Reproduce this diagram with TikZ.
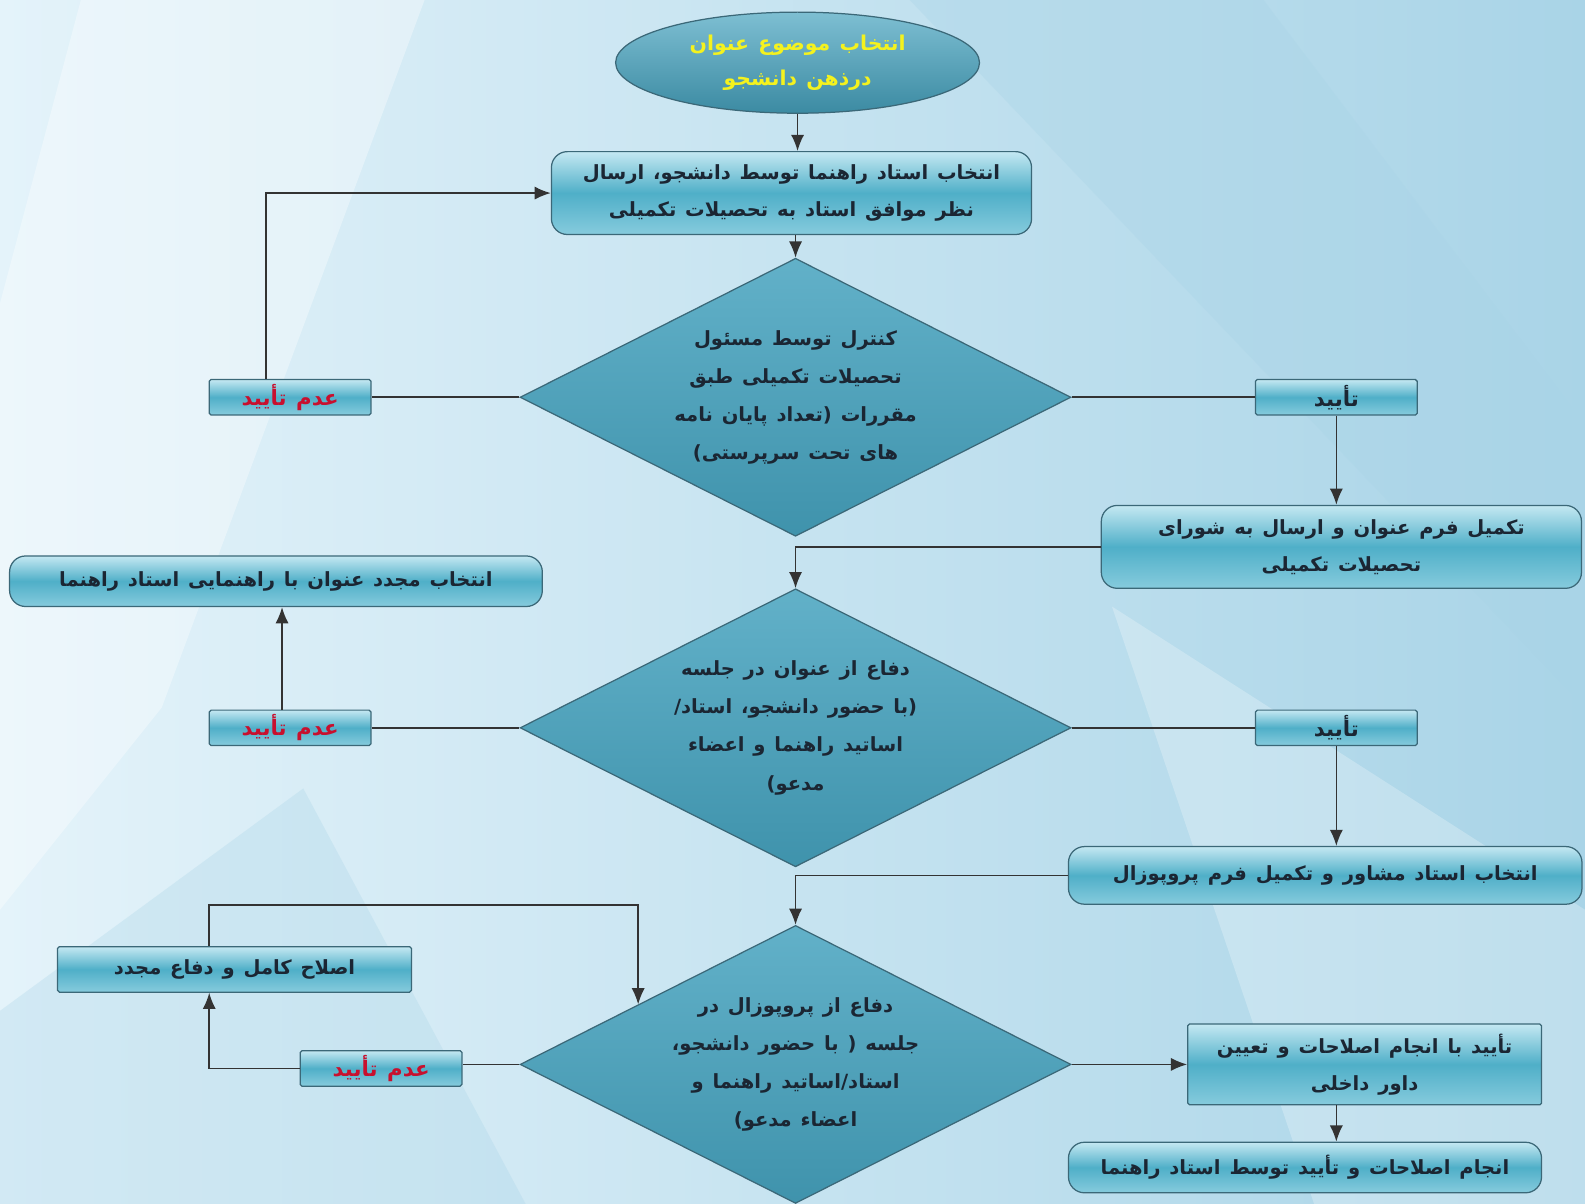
\documentclass[tikz,border=0pt]{standalone}
\usepackage{fontspec}
\usepackage{tikz}
\usetikzlibrary{shapes.geometric}
\usetikzlibrary{arrows.meta}
\usetikzlibrary{calc}
\TeXXeTstate=1
\newfontfamily\farsi[Script=Arabic, WordSpace=1.3]{DejaVu Sans}
\newcommand{\fa}[1]{\beginR #1\endR}

\definecolor{bgleft}{HTML}{E4F3FA}
\definecolor{bgright}{HTML}{A9D4E7}
\definecolor{boxtop}{HTML}{C4E8F2}
\definecolor{boxmid}{HTML}{4FAFC8}
\definecolor{boxbot}{HTML}{86CBDD}
\definecolor{edgecol}{HTML}{3B6878}
\definecolor{diafill}{HTML}{46A3BF}
\definecolor{txtcol}{HTML}{1B2633}
\definecolor{nocol}{HTML}{C8102E}
\definecolor{startcol}{HTML}{F4F21E}

\tikzset{
  base/.style={draw=edgecol, line width=0.7pt, align=center, inner sep=0pt,
    text=txtcol, font=\farsi\bfseries\fontsize{11}{21}\selectfont,
    top color=boxtop, bottom color=boxbot, middle color=boxmid},
  stepbox/.style={base, rectangle, rounded corners=9pt},
  flatbox/.style={base, rectangle, rounded corners=1pt},
  answer/.style={flatbox, minimum width=32mm, minimum height=7mm,
    font=\farsi\bfseries\fontsize{12}{21}\selectfont},
  decision/.style={diamond, draw=edgecol, line width=0.7pt, inner sep=0pt,
    top color=diafill!85!white, bottom color=diafill!90!black,
    minimum width=109mm, minimum height=55mm},
  dtext/.style={align=center, text=txtcol, font=\farsi\bfseries\fontsize{11}{21.5}\selectfont},
  line/.style={draw=black!80, line width=0.9pt},
  arr/.style={line, -{Latex[length=3.2mm, width=2.6mm]}}
}

\begin{document}
\begin{tikzpicture}[x=0.2mm, y=-0.2mm]
% background
\useasboundingbox (0,0) rectangle (1568,1191);
\fill[left color=bgleft, right color=bgright] (0,0) rectangle (1568,1191);
\fill[white, opacity=0.35] (80,0) -- (420,0) -- (160,700) -- (0,900) -- (0,300) -- cycle;
\fill[bgright, opacity=0.35] (900,0) -- (1250,0) -- (1568,420) -- (1568,700) -- cycle;
\fill[white, opacity=0.25] (1100,600) -- (1568,900) -- (1568,1191) -- (1300,1191) -- cycle;
\fill[bgright, opacity=0.3] (0,1000) -- (300,780) -- (520,1191) -- (0,1191) -- cycle;

\node[ellipse, draw=edgecol, line width=0.7pt, top color=diafill!70!white,
   bottom color=diafill!85!black, minimum width=72mm, minimum height=20mm,
   align=center, text=startcol, font=\farsi\bfseries\fontsize{11.5}{20}\selectfont]
   (start) at (789,62)
  {\fa{انتخاب موضوع عنوان}\\ \fa{درذهن دانشجو}};

\node[stepbox, minimum width=95mm, minimum height=16.4mm] (sel) at (783,191)
  {\fa{انتخاب استاد راهنما توسط دانشجو، ارسال}\\
   \fa{نظر موافق استاد به تحصیلات تکمیلی}};

\node[decision] (chk) at (787,393) {};
\node[dtext] (chkt) at (chk.center)
  {\fa{کنترل توسط مسئول}\\ \fa{تحصیلات تکمیلی طبق}\\
   \fa{مقررات (تعداد پایان نامه}\\ \fa{های تحت سرپرستی)}};

\node[answer, text=nocol] (no1) at (287,393) {\fa{عدم تأیید}};
\node[answer] (yes1) at (1322,393) {\fa{تأیید}};

\node[stepbox, minimum width=95mm, minimum height=16.4mm] (form) at (1327,541)
  {\fa{تکمیل فرم عنوان و ارسال به شورای}\\ \fa{تحصیلات تکمیلی}};

\node[stepbox, minimum width=105.4mm, minimum height=10mm] (resel) at (273,575)
  {\fa{انتخاب مجدد عنوان با راهنمایی استاد راهنما}};

\node[decision] (def1) at (787,720) {};
\node[dtext] (def1t) at (def1.center)
  {\fa{دفاع از عنوان در جلسه}\\ \fa{(با حضور دانشجو، استاد/}\\
   \fa{اساتید راهنما و اعضاء}\\ \fa{مدعو)}};

\node[answer, text=nocol] (no2) at (287,720) {\fa{عدم تأیید}};
\node[answer] (yes2) at (1322,720) {\fa{تأیید}};

\node[stepbox, minimum width=101.6mm, minimum height=11.4mm] (adv) at (1311,866)
  {\fa{انتخاب استاد مشاور و تکمیل فرم پروپوزال}};

\node[flatbox, minimum width=70mm, minimum height=9mm] (fix) at (232,959)
  {\fa{اصلاح کامل و دفاع مجدد}};

\node[decision] (def2) at (787,1053) {};
\node[dtext] (def2t) at (def2.center)
  {\fa{دفاع از پروپوزال در}\\ \fa{جلسه ( با حضور دانشجو،}\\
   \fa{استاد/اساتید راهنما و}\\ \fa{اعضاء مدعو)}};

\node[answer, text=nocol] (no3) at (377,1057) {\fa{عدم تأیید}};

\node[flatbox, minimum width=70mm, minimum height=16mm] (ok) at (1350,1053)
  {\fa{تأیید با انجام اصلاحات و تعیین}\\ \fa{داور داخلی}};

\node[stepbox, minimum width=93.6mm, minimum height=10mm] (done) at (1291,1155)
  {\fa{انجام اصلاحات و تأیید توسط استاد راهنما}};

% connectors
\coordinate (hit) at ($(def2.west)!0.43!(def2.north)$);
\coordinate (bend) at (hit |- 0,895);

\draw[arr] (start) -- (start |- sel.north);
\draw[arr] (sel.south -| chk) -- (chk.north);
\draw[line] (chk.west) -- (no1.east);
\draw[arr] ([xshift=-4.8mm]no1.north) |- (sel.west);
\draw[line] (chk.east) -- (yes1.west);
\draw[arr] (yes1.south) -- (yes1 |- form.north);
\draw[arr] (form.west) -| (def1.north);
\draw[line] (def1.west) -- (no2.east);
\draw[arr] ([xshift=-1.6mm]no2.north) -- ([xshift=-1.6mm]no2 |- resel.south);
\draw[line] (def1.east) -- (yes2.west);
\draw[arr] (yes2.south) -- (yes2 |- adv.north);
\draw[arr] (adv.west) -| (def2.north);
\draw[line] (def2.west) -- (def2.west -| no3.east);
\draw[arr] (no3.west) -| ([xshift=-5mm]fix.south);
\draw[arr] ([xshift=-5mm]fix.north) |- (bend) -- (hit);
\draw[arr] (def2.east) -- (ok.west);
\draw[arr] (ok.south -| yes2) -- (yes2 |- done.north);
\end{tikzpicture}
\end{document}
